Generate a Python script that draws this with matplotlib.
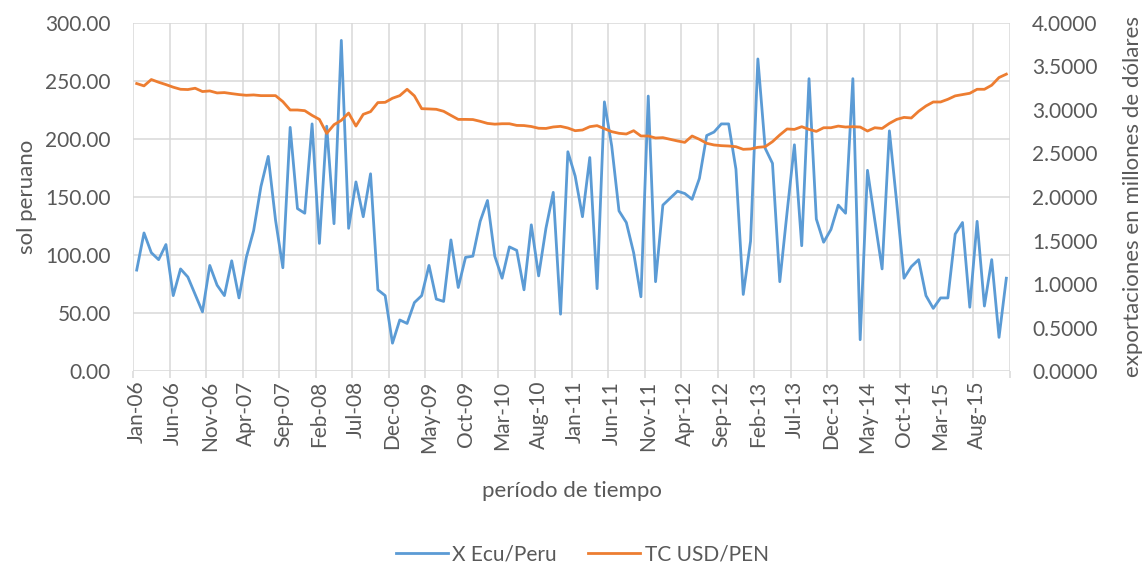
import numpy as np
import matplotlib
matplotlib.use('Agg')
from matplotlib import pyplot as plt

plt.rcParams['font.family'] = ['Lato', 'DejaVu Sans']

# monthly data, Jan-06 .. Dec-15
x_ecu_peru = [87, 119, 102, 96, 109, 65, 88, 81, 66, 51,
              91, 74, 65, 95, 63, 98, 121, 159, 185, 130,
              89, 210, 140, 136, 213, 110, 211, 127, 285, 123,
              163, 133, 170, 70, 65, 24, 44, 41, 59, 65,
              91, 62, 60, 113, 72, 98, 99, 129, 147, 99,
              80, 107, 104, 70, 126, 82, 123, 154, 49, 189,
              168, 133, 184, 71, 232, 194, 138, 128, 102, 64,
              237, 77, 143, 149, 155, 153, 148, 166, 203, 206,
              213, 213, 174, 66, 112, 269, 192, 179, 77, 137,
              195, 108, 252, 131, 111, 122, 143, 136, 252, 27,
              173, 130, 88, 207, 145, 80, 90, 96, 65, 54,
              63, 63, 118, 128, 55, 129, 56, 96, 29, 80]

tc_usd_pen = [3.304, 3.277, 3.350, 3.319, 3.292, 3.262, 3.238, 3.235, 3.250, 3.212,
              3.219, 3.196, 3.200, 3.188, 3.177, 3.169, 3.173, 3.165, 3.165, 3.165,
              3.096, 3.000, 3.000, 2.992, 2.938, 2.892, 2.731, 2.831, 2.881, 2.965,
              2.815, 2.950, 2.981, 3.085, 3.088, 3.135, 3.165, 3.238, 3.162, 3.015,
              3.012, 3.008, 2.985, 2.938, 2.892, 2.892, 2.890, 2.870, 2.846, 2.837,
              2.842, 2.842, 2.823, 2.821, 2.810, 2.790, 2.788, 2.805, 2.812, 2.793,
              2.762, 2.770, 2.808, 2.820, 2.785, 2.751, 2.732, 2.724, 2.762, 2.701,
              2.701, 2.678, 2.682, 2.663, 2.644, 2.628, 2.701, 2.663, 2.617, 2.598,
              2.590, 2.586, 2.578, 2.548, 2.552, 2.571, 2.578, 2.636, 2.713, 2.782,
              2.777, 2.808, 2.777, 2.754, 2.796, 2.796, 2.815, 2.804, 2.808, 2.804,
              2.758, 2.796, 2.788, 2.846, 2.892, 2.915, 2.908, 2.985, 3.046, 3.092,
              3.092, 3.123, 3.162, 3.177, 3.192, 3.238, 3.238, 3.285, 3.373, 3.412]

tick_labels = ['Jan-06', 'Jun-06', 'Nov-06', 'Apr-07', 'Sep-07', 'Feb-08',
               'Jul-08', 'Dec-08', 'May-09', 'Oct-09', 'Mar-10', 'Aug-10',
               'Jan-11', 'Jun-11', 'Nov-11', 'Apr-12', 'Sep-12', 'Feb-13',
               'Jul-13', 'Dec-13', 'May-14', 'Oct-14', 'Mar-15', 'Aug-15']

months = np.arange(len(x_ecu_peru))
txt = '#595959'
grid_c = '#d9d9d9'

fig = plt.figure(figsize=(11.42, 5.66), dpi=100)
fig.subplots_adjust(left=0.1165, right=0.8844, top=0.9594, bottom=0.3445)
ax = fig.add_subplot(111)
ax2 = ax.twinx()

l1, = ax.plot(months, x_ecu_peru, color='#5B9BD5', lw=2.0, label='X Ecu/Peru')
l2, = ax2.plot(months, tc_usd_pen, color='#ED7D31', lw=2.0, label='TC USD/PEN')

ax.set_xlim(-0.5, len(months) - 0.5)
ax.set_ylim(0, 300)
ax2.set_ylim(0, 4)
ax.set_yticks(np.arange(0, 301, 50))
ax2.set_yticks(np.arange(0, 4.01, 0.5))
ax.yaxis.set_major_formatter(matplotlib.ticker.FormatStrFormatter('%.2f'))
ax2.yaxis.set_major_formatter(matplotlib.ticker.FormatStrFormatter('%.4f'))

ax.set_xticks(months[::5])
ax.set_xticklabels(tick_labels, rotation=90)
ax.set_xticks(np.arange(-0.5, len(months), 5), minor=True)

ax.grid(axis='y', which='major', color=grid_c, lw=1.1)
ax.grid(axis='x', which='minor', color=grid_c, lw=1.1)
ax.set_axisbelow(True)

for a in (ax, ax2):
    for s in a.spines.values():
        s.set_visible(False)

ax.tick_params(axis='x', which='major', length=0, pad=7, labelsize=15, labelcolor=txt)
ax.tick_params(axis='x', which='minor', length=5, width=1.1, color=grid_c)
ax.tick_params(axis='y', length=0, pad=16, labelsize=15, labelcolor=txt)
ax2.tick_params(axis='y', length=0, pad=16, labelsize=15, labelcolor=txt)

ax.set_xlabel('período de tiempo', fontsize=16, color=txt, labelpad=20)
ax.set_ylabel('sol peruano', fontsize=16, color=txt, labelpad=6)
ax2.set_ylabel('exportaciones en millones de dólares', fontsize=16, color=txt,
               labelpad=18)

fig.legend(handles=[l1, l2], loc='lower center', bbox_to_anchor=(0.51, -0.03),
           ncol=2, frameon=False, fontsize=15, labelcolor=txt,
           handlelength=2.5, columnspacing=1.5, handletextpad=0.2)

fig.savefig('out.png', dpi=100)
